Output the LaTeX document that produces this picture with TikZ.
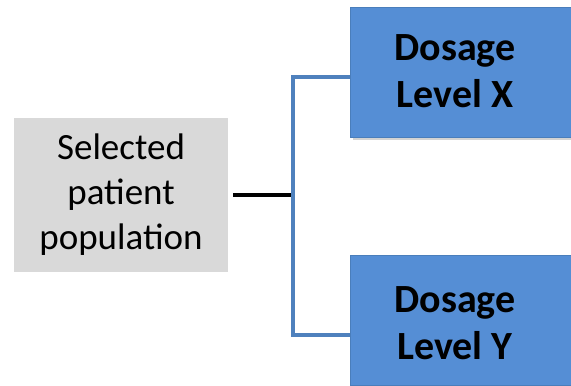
\documentclass[tikz,border=0pt]{standalone}
\usepackage{fontspec}
\setmainfont{Carlito}
\usetikzlibrary{shadows}

\definecolor{popgray}{HTML}{D9D9D9}
\definecolor{dosefill}{HTML}{558ED5}
\definecolor{doseedge}{HTML}{4A7EBB}
\definecolor{armblue}{HTML}{4F81BD}

\begin{document}
\begin{tikzpicture}[x=1pt,y=1pt,
  popbox/.style={fill=popgray, minimum width=214pt, minimum height=154pt,
    inner sep=0pt, align=center, font=\fontsize{37}{45}\selectfont},
  dosebox/.style={fill=dosefill, draw=doseedge, line width=1pt,
    minimum width=240pt, minimum height=130pt, inner sep=0pt,
    drop shadow={shadow xshift=2pt, shadow yshift=-3pt, opacity=0.35}},
  dosetext/.style={align=center, inner sep=0pt,
    font=\fontsize{40}{47}\selectfont\bfseries},
  armline/.style={draw=armblue, line width=4pt, line join=miter}]

\useasboundingbox (0,0) rectangle (571,386);
\clip (0,0) rectangle (571,386);

\node[popbox] (pop) at (121,191) {Selected\\patient\\population};

\node[dosebox, anchor=north west] (doseX) at (350,379) {};
\node[dosetext] (doseXtext) at (455,315) {Dosage\\Level X};

\node[dosebox, anchor=north west] (doseY) at (350,131) {};
\node[dosetext] (doseYtext) at (455,63) {Dosage\\Level Y};

\coordinate (split) at (292,191);
\coordinate (topbend) at (293,309);
\coordinate (botbend) at (293,51);

% stem from the population box
\draw[line width=4pt] ([xshift=5pt]pop.east) -- (split);

% the two arms
\draw[armline] (doseX.west |- topbend) -- (topbend) -- (botbend) -- (doseY.west |- botbend);

\end{tikzpicture}
\end{document}
